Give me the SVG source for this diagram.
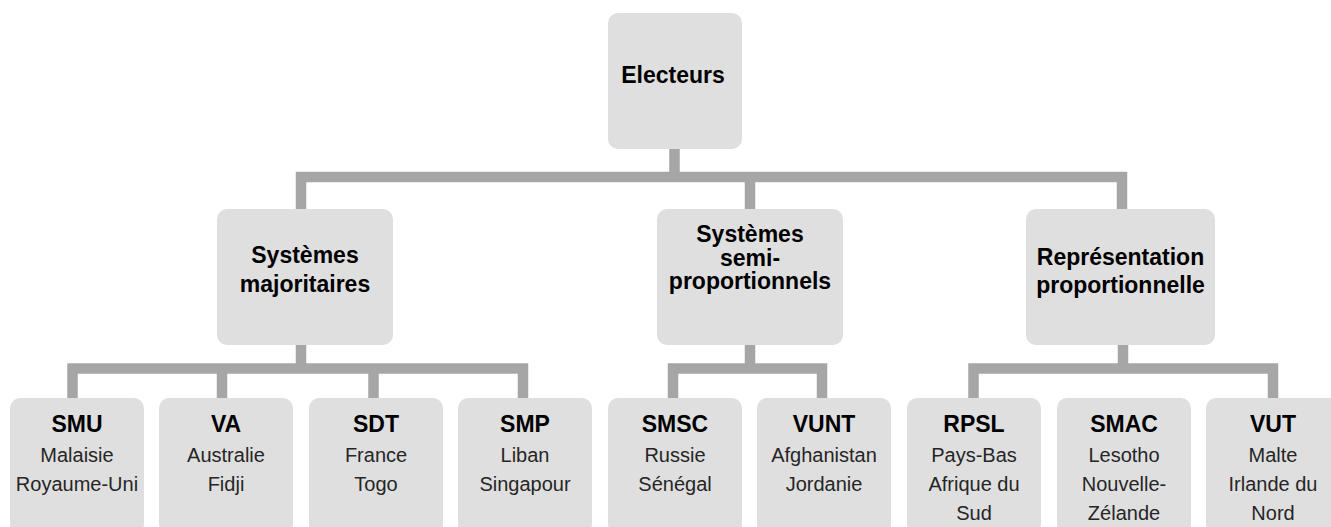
<svg xmlns="http://www.w3.org/2000/svg" width="1331" height="527" viewBox="0 0 1331 527">
<style>
.box{fill:#dfdfdf}
.c{fill:none;stroke:#a6a6a6;stroke-width:10.5;stroke-linejoin:miter;stroke-linecap:butt}
.h{font-family:"Liberation Sans",Arial,sans-serif;font-weight:bold;font-size:23px;fill:#000;text-anchor:middle}
.b{font-family:"Liberation Sans",Arial,sans-serif;font-size:20px;fill:#262626;text-anchor:middle}
</style>
<rect width="1331" height="527" fill="#ffffff"/>
<g id="connectors">
<path class="c" d="M674.5 149V177M301 209V177H1122V209M750 177V209"/>
<path class="c" d="M301 345V368.5M72.5 398V368.5H523V398M222 368.5V398M373.5 368.5V398"/>
<path class="c" d="M750 345V368.5M673 398V368.5H822V398"/>
<path class="c" d="M1123 345V368.5M973.5 398V368.5H1273V398"/>
</g>
<g id="electeurs"><rect class="box" x="608" y="13" width="134" height="136" rx="10"/><text class="h" x="673" y="83">Electeurs</text></g>
<g id="majoritaires"><rect class="box" x="217" y="209" width="176" height="136" rx="10"/><text class="h" x="305" y="263">Systèmes</text><text class="h" x="305" y="291.5">majoritaires</text></g>
<g id="semi"><rect class="box" x="657" y="209" width="186" height="136" rx="10"/><text class="h" x="750" y="242">Systèmes</text><text class="h" x="750" y="265.5">semi-</text><text class="h" x="750" y="289">proportionnels</text></g>
<g id="proportionnelle"><rect class="box" x="1026" y="209" width="189" height="136" rx="10"/><text class="h" x="1120.5" y="265">Représentation</text><text class="h" x="1120.5" y="293">proportionnelle</text></g>
<g id="smu"><rect class="box" x="10" y="398" width="134" height="136" rx="10"/><text class="h" x="77" y="432">SMU</text><text class="b" x="77" y="461.5">Malaisie</text><text class="b" x="77" y="490.5">Royaume-Uni</text></g>
<g id="va"><rect class="box" x="159" y="398" width="134" height="136" rx="10"/><text class="h" x="226" y="432">VA</text><text class="b" x="226" y="461.5">Australie</text><text class="b" x="226" y="490.5">Fidji</text></g>
<g id="sdt"><rect class="box" x="309" y="398" width="134" height="136" rx="10"/><text class="h" x="376" y="432">SDT</text><text class="b" x="376" y="461.5">France</text><text class="b" x="376" y="490.5">Togo</text></g>
<g id="smp"><rect class="box" x="458" y="398" width="134" height="136" rx="10"/><text class="h" x="525" y="432">SMP</text><text class="b" x="525" y="461.5">Liban</text><text class="b" x="525" y="490.5">Singapour</text></g>
<g id="smsc"><rect class="box" x="608" y="398" width="134" height="136" rx="10"/><text class="h" x="675" y="432">SMSC</text><text class="b" x="675" y="461.5">Russie</text><text class="b" x="675" y="490.5">Sénégal</text></g>
<g id="vunt"><rect class="box" x="757" y="398" width="134" height="136" rx="10"/><text class="h" x="824" y="432">VUNT</text><text class="b" x="824" y="461.5">Afghanistan</text><text class="b" x="824" y="490.5">Jordanie</text></g>
<g id="rpsl"><rect class="box" x="907" y="398" width="134" height="136" rx="10"/><text class="h" x="974" y="432">RPSL</text><text class="b" x="974" y="461.5">Pays-Bas</text><text class="b" x="974" y="490.5">Afrique du</text><text class="b" x="974" y="519.5">Sud</text></g>
<g id="smac"><rect class="box" x="1057" y="398" width="134" height="136" rx="10"/><text class="h" x="1124" y="432">SMAC</text><text class="b" x="1124" y="461.5">Lesotho</text><text class="b" x="1124" y="490.5">Nouvelle-</text><text class="b" x="1124" y="519.5">Zélande</text></g>
<g id="vut"><rect class="box" x="1206" y="398" width="134" height="136" rx="10"/><text class="h" x="1273" y="432">VUT</text><text class="b" x="1273" y="461.5">Malte</text><text class="b" x="1273" y="490.5">Irlande du</text><text class="b" x="1273" y="519.5">Nord</text></g>
</svg>
